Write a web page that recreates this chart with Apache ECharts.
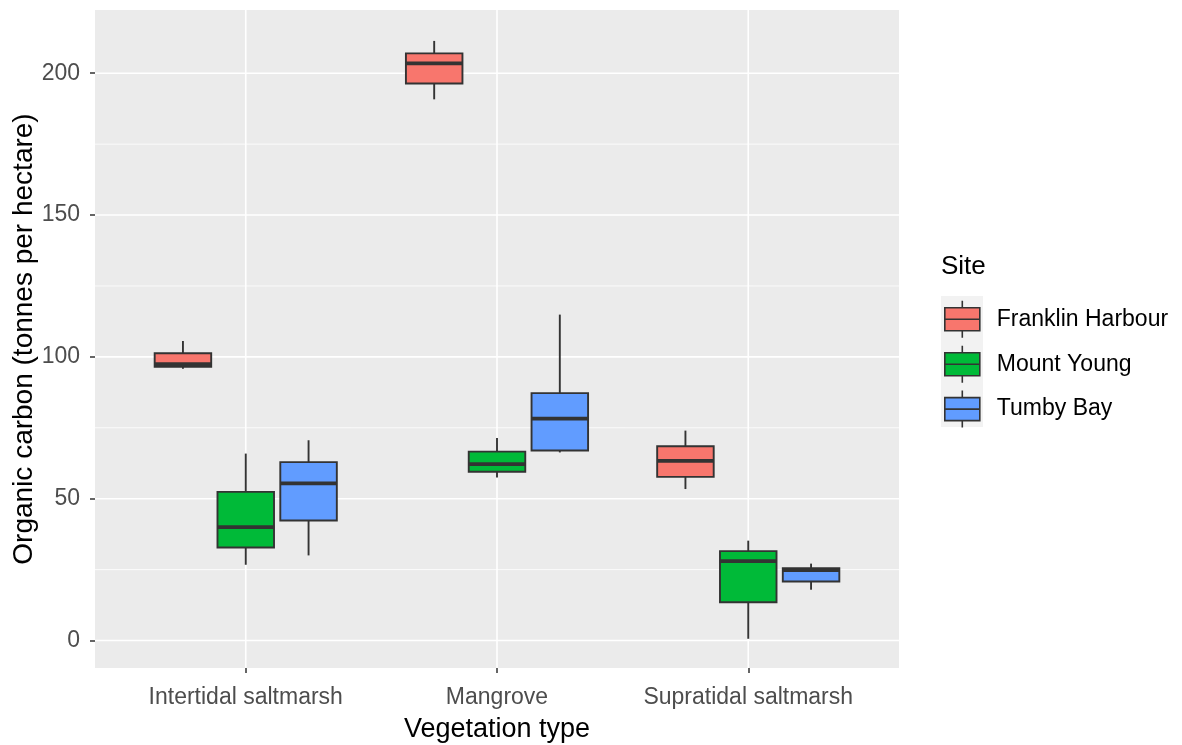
<!DOCTYPE html>
<html>
<head>
<meta charset="utf-8">
<title>Organic carbon by vegetation type and site</title>
<script src="https://cdn.jsdelivr.net/npm/echarts@6/dist/echarts.min.js"></script>
<style>
  html, body { margin: 0; padding: 0; background: #ffffff; }
  #chart { width: 1182px; height: 745px; }
</style>
</head>
<body>
<div id="chart"></div>
<script>
// Vegetation types along the x axis (positions 1, 2, 3)
const vegetationTypes = ['Intertidal saltmarsh', 'Mangrove', 'Supratidal saltmarsh'];
const sites = ['Franklin Harbour', 'Mount Young', 'Tumby Bay'];
const siteColors = ['#F8766D', '#00BA38', '#619CFF'];

// Box summaries per vegetation type: [lower whisker, Q1, median, Q3, upper whisker]
const franklinHarbour = [
  [95.8, 96.5, 97.4, 101.3, 105.6],
  [190.8, 196.4, 203.5, 207.0, 211.4],
  [53.4, 57.7, 63.3, 68.5, 74.0]
];
const mountYoung = [
  [26.7, 32.8, 40.0, 52.4, 65.9],
  [57.5, 59.5, 62.2, 66.6, 71.4],
  [0.6, 13.5, 28.0, 31.5, 35.2]
];
const tumbyBay = [
  [30.0, 42.3, 55.4, 62.9, 70.6],
  [66.3, 67.0, 78.2, 87.2, 114.9],
  [17.9, 20.8, 24.8, 25.5, 27.1]
];

const yTicks = [0, 50, 100, 150, 200];
const yMinorGrid = [25, 75, 125, 175];
const xTicks = [1, 2, 3];

const X_MIN = 0.4, X_MAX = 3.6;
const Y_MIN = -9.7, Y_MAX = 222.3;
const DODGE = 0.25;      // horizontal spacing between sites within a group
const BOX_WIDTH = 0.225; // box width in x units
const OUTLINE = '#333333';

const siteSummaries = [franklinHarbour, mountYoung, tumbyBay];

function boxRenderer(offset, color) {
  return function (params, api) {
    const cx = api.value(0) + offset;
    const pMin = api.coord([cx, api.value(1)]);
    const pQ1 = api.coord([cx, api.value(2)]);
    const pMed = api.coord([cx, api.value(3)]);
    const pQ3 = api.coord([cx, api.value(4)]);
    const pMax = api.coord([cx, api.value(5)]);
    const half = api.size([BOX_WIDTH, 0])[0] / 2;
    const x = pMed[0];
    return {
      type: 'group',
      children: [
        { type: 'line', shape: { x1: x, y1: pMax[1], x2: x, y2: pQ3[1] },
          style: { stroke: OUTLINE, lineWidth: 1.9 } },
        { type: 'line', shape: { x1: x, y1: pQ1[1], x2: x, y2: pMin[1] },
          style: { stroke: OUTLINE, lineWidth: 1.9 } },
        { type: 'rect', shape: { x: x - half, y: pQ3[1], width: half * 2, height: pQ1[1] - pQ3[1] },
          style: { fill: color, stroke: OUTLINE, lineWidth: 1.9 } },
        { type: 'line', shape: { x1: x - half, y1: pMed[1], x2: x + half, y2: pMed[1] },
          style: { stroke: OUTLINE, lineWidth: 3.8 } }
      ]
    };
  };
}

const boxSeries = sites.map(function (name, i) {
  const data = siteSummaries[i].map(function (s, c) { return [c + 1].concat(s); });
  return {
    name: name,
    type: 'custom',
    z: 5,
    encode: { x: 0, y: [1, 2, 3, 4, 5] },
    renderItem: boxRenderer((i - 1) * DODGE, siteColors[i]),
    data: data,
    itemStyle: { color: siteColors[i] }
  };
});

// Panel gridlines (white on grey)
const hGridSeries = {
  name: 'hgrid',
  type: 'custom',
  silent: true,
  z: 1,
  encode: { y: 0 },
  data: yTicks.map(function (v) { return [v, 1]; }).concat(yMinorGrid.map(function (v) { return [v, 0]; })),
  renderItem: function (params, api) {
    const cs = params.coordSys;
    const y = api.coord([X_MIN, api.value(0)])[1];
    return { type: 'line', shape: { x1: cs.x, y1: y, x2: cs.x + cs.width, y2: y },
      style: { stroke: '#ffffff', lineWidth: api.value(1) ? 1.6 : 0.8 } };
  }
};
const vGridSeries = {
  name: 'vgrid',
  type: 'custom',
  silent: true,
  z: 1,
  encode: { x: 0 },
  data: xTicks.map(function (v) { return [v]; }),
  renderItem: function (params, api) {
    const cs = params.coordSys;
    const x = api.coord([api.value(0), Y_MIN])[0];
    return { type: 'line', shape: { x1: x, y1: cs.y, x2: x, y2: cs.y + cs.height },
      style: { stroke: '#ffffff', lineWidth: 1.6 } };
  }
};

const FONT = '"Liberation Sans", Arial, sans-serif';
const boxIcon = 'path://M17.5,0 L17.5,7 M0,7 L35,7 L35,30 L0,30 Z M0,18.5 L35,18.5 M17.5,30 L17.5,37';

const chart = echarts.init(document.getElementById('chart'), null, { renderer: 'canvas' });
chart.setOption({
  animation: false,
  backgroundColor: '#ffffff',
  textStyle: { fontFamily: FONT },
  grid: {
    left: 95, right: 283, top: 10, bottom: 77,
    containLabel: false,
    outerBoundsMode: 'none',
    show: true, backgroundColor: '#EBEBEB', borderWidth: 0
  },
  title: {
    text: 'Site', left: 941, top: 254, padding: 0,
    textStyle: { fontFamily: FONT, fontSize: 26, fontWeight: 'normal', color: '#000000' }
  },
  graphic: [{
    type: 'rect', left: 941, top: 296, z: 0,
    shape: { width: 42, height: 131 },
    style: { fill: '#F2F2F2' }
  }],
  legend: {
    orient: 'vertical',
    left: 944, top: 300,
    padding: 0,
    itemWidth: 35, itemHeight: 37, itemGap: 6.3,
    selectedMode: false,
    textStyle: { fontFamily: FONT, fontSize: 23, color: '#000000', padding: [0, 0, 0, 12] },
    data: sites.map(function (s, i) {
      return { name: s, icon: boxIcon,
        itemStyle: { color: siteColors[i], borderColor: OUTLINE, borderWidth: 1.6 } };
    })
  },
  xAxis: {
    type: 'value',
    min: X_MIN, max: X_MAX,
    name: 'Vegetation type',
    nameLocation: 'middle',
    nameGap: 48,
    nameMoveOverlap: false,
    nameTextStyle: { fontFamily: FONT, fontSize: 27, color: '#000000' },
    axisLine: { show: false, onZero: false },
    splitLine: { show: false },
    axisTick: { show: true, length: 5, customValues: xTicks, lineStyle: { color: OUTLINE, width: 1.5 } },
    axisLabel: {
      customValues: xTicks,
      margin: 18,
      fontFamily: FONT, fontSize: 23, color: '#4D4D4D',
      formatter: function (v) { return vegetationTypes[Math.round(v) - 1]; }
    }
  },
  yAxis: {
    type: 'value',
    min: Y_MIN, max: Y_MAX,
    name: 'Organic carbon (tonnes per hectare)',
    nameLocation: 'middle',
    nameGap: 57,
    nameMoveOverlap: false,
    nameTextStyle: { fontFamily: FONT, fontSize: 28, color: '#000000' },
    axisLine: { show: false, onZero: false },
    splitLine: { show: false },
    axisTick: { show: true, length: 5, customValues: yTicks, lineStyle: { color: OUTLINE, width: 1.5 } },
    axisLabel: {
      customValues: yTicks,
      margin: 15,
      fontFamily: FONT, fontSize: 23, color: '#4D4D4D'
    }
  },
  series: [hGridSeries, vGridSeries].concat(boxSeries)
});
</script>
</body>
</html>
